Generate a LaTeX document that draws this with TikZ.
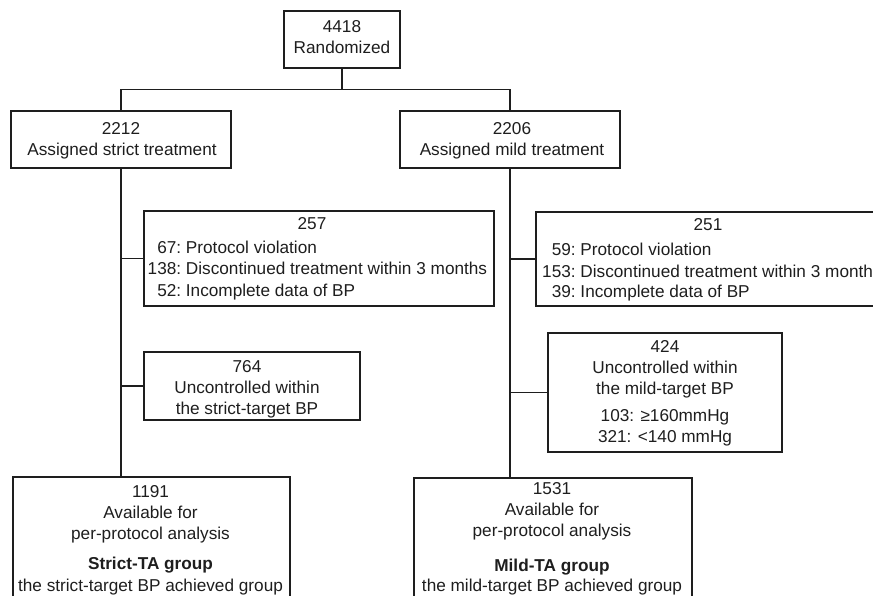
\documentclass[tikz,border=0pt]{standalone}
\usepackage{fontspec}
\setmainfont{Liberation Sans}
\usetikzlibrary{calc}
\definecolor{ink}{HTML}{1E1E1E}
\begin{document}
\begin{tikzpicture}[x=1pt,y=-1pt,
  box/.style={draw=ink, line width=1.1pt, rectangle, inner sep=0pt},
  link/.style={draw=ink, line width=1.5pt},
  txt/.style={inner sep=0pt, anchor=base, text=ink, font=\fontsize{17.2}{21}\selectfont},
  ltxt/.style={txt, anchor=base west}]
\useasboundingbox (0,0) rectangle (873,596);
\clip (0,0) rectangle (873,596);
% boxes
\node[box, minimum width=116pt, minimum height=57pt] (top) at (342,39.5) {};
\node[box, minimum width=220pt, minimum height=57pt] (strict) at (121,139.5) {};
\node[box, minimum width=220pt, minimum height=57pt] (mild) at (510,139.5) {};
\node[box, minimum width=350pt, minimum height=95pt] (exS) at (319,258.5) {};
\node[box, minimum width=364pt, minimum height=94pt] (exM) at (718,259) {};
\node[box, minimum width=216pt, minimum height=68pt] (unS) at (252,386) {};
\node[box, minimum width=234pt, minimum height=119pt] (unM) at (665,392.5) {};
\node[box, minimum width=277pt, minimum height=163pt] (finS) at (151.5,558.5) {};
\node[box, minimum width=278pt, minimum height=162pt] (finM) at (553,559) {};
% connectors
\coordinate (split) at ($(top.south)+(0,21)$);
\draw[link] (top.south) -- (split);
\draw[link] (strict.north) |- (split) -| (mild.north);
\draw[link] (strict.south) -- (strict.south |- finS.north);
\draw[link] (mild.south) -- (mild.south |- finM.north);
\draw[link] (strict.south |- exS.west) -- (exS.west);
\draw[link] (strict.south |- unS.west) -- (unS.west);
\draw[link] (mild.south |- exM.west) -- (exM.west);
\draw[link] (mild.south |- unM.west) -- (unM.west);
% texts
\node[txt] (t1) at (342,33) {4418};
\node[txt] (t2) at (342,54) {Randomized};
\node[txt] (t3) at (121,135) {2212};
\node[txt] (t4) at (122,156) {Assigned strict treatment};
\node[txt] (t5) at (512,135) {2206};
\node[txt] (t6) at (512,156) {Assigned mild treatment};
\node[txt] (t7) at (312,230) {257};
\node[ltxt] (t8) at (181,254) {\llap{67:} Protocol violation};
\node[ltxt] (t9) at (181,275) {\llap{138:} Discontinued treatment within 3 months};
\node[ltxt] (t10) at (181,296) {\llap{52:} Incomplete data of BP};
\node[txt] (t11) at (708,231) {251};
\node[ltxt] (t12) at (575.5,256) {\llap{59:} Protocol violation};
\node[ltxt] (t13) at (575.5,277) {\llap{153:} Discontinued treatment within 3 months};
\node[ltxt] (t14) at (575.5,298) {\llap{39:} Incomplete data of BP};
\node[txt] (t15) at (247,372) {764};
\node[txt] (t16) at (247,393) {Uncontrolled within};
\node[txt] (t17) at (247,414) {the strict-target BP};
\node[txt] (t18) at (665,352) {424};
\node[txt] (t19) at (665,373) {Uncontrolled within};
\node[txt] (t20) at (665,394) {the mild-target BP};
\node[txt] (t21) at (665,421) {103: ≥160mmHg};
\node[txt] (t22) at (665,442) {321: <140 mmHg};
\node[txt] (t23) at (150.5,497) {1191};
\node[txt] (t24) at (150.5,518) {Available for};
\node[txt] (t25) at (150.5,539) {per-protocol analysis};
\node[txt] (t26) at (150.5,569) {\bfseries Strict-TA group};
\node[txt] (t27) at (150.5,591) {the strict-target BP achieved group};
\node[txt] (t28) at (552,494) {1531};
\node[txt] (t29) at (552,515) {Available for};
\node[txt] (t30) at (552,536) {per-protocol analysis};
\node[txt] (t31) at (552,571) {\bfseries Mild-TA group};
\node[txt] (t32) at (552,591) {the mild-target BP achieved group};
\end{tikzpicture}
\end{document}
